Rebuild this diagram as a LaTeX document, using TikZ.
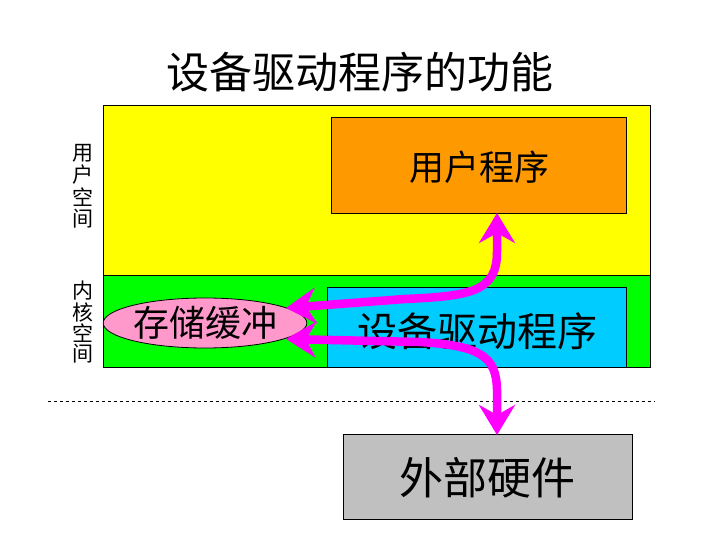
\documentclass[tikz,border=0pt]{standalone}
\usepackage{fontspec}
\setmainfont{Noto Sans CJK SC}
\usetikzlibrary{shapes.geometric,arrows.meta}
\definecolor{cyel}{RGB}{255,255,0}
\definecolor{cgrn}{RGB}{0,255,0}
\definecolor{corg}{RGB}{255,153,0}
\definecolor{ccyn}{RGB}{0,204,255}
\definecolor{cpnk}{RGB}{255,153,204}
\definecolor{cgry}{RGB}{192,192,192}
\definecolor{cmag}{RGB}{255,0,255}
\tikzset{
  box/.style={draw=black, line width=0.8pt, inner sep=0pt},
  arr/.style={draw=cmag, line width=8.5pt, {Stealth[length=30pt,width=36pt,inset=10pt]}-{Stealth[length=30pt,width=36pt,inset=10pt]}},
  lbl/.style={font=\fontsize{21}{21}\selectfont, inner sep=0pt}
}
\begin{document}
\begin{tikzpicture}[x=1pt,y=-1pt]
\useasboundingbox[fill=white] (0,0) rectangle (720,540);
\node[font=\fontsize{43}{43}\selectfont, inner sep=0pt] (title) at (360,72) {设备驱动程序的功能};
\node[box, fill=cyel, minimum width=547pt, minimum height=170pt, anchor=north west] (user) at (103,105) {};
\node[box, fill=cgrn, minimum width=547pt, minimum height=92pt, anchor=north west] (kern) at (103,275) {};
\node[box, fill=corg, minimum width=295pt, minimum height=96pt, anchor=north west] (uprog) at (331,117) {};
\node[font=\fontsize{35}{35}\selectfont, inner sep=0pt] (uprogt) at (479,167) {用户程序};
\node[box, fill=ccyn, minimum width=299pt, minimum height=80pt, anchor=north west] (drv) at (327,287) {};
\node[font=\fontsize{40}{40}\selectfont, inner sep=0pt] (drvt) at (477,331) {设备驱动程序};
\node[ellipse, draw=black, line width=0.8pt, fill=cpnk, minimum width=190pt, minimum height=50pt, inner sep=0pt, font=\fontsize{36}{36}\selectfont] (buf) at (205,323) {存储缓冲};
\node[lbl] (u1) at (83,153) {用};
\node[lbl] (u2) at (83,175) {户};
\node[lbl] (u3) at (83,197) {空};
\node[lbl] (u4) at (83,219) {间};
\node[lbl] (k1) at (83,291) {内};
\node[lbl] (k2) at (83,312) {核};
\node[lbl] (k3) at (83,333) {空};
\node[lbl] (k4) at (83,354) {间};
\coordinate (dl) at (48,401);
\coordinate (dr) at (655,401);
\draw[dashed, line width=0.6pt] (dl) -- (dr);
\node[box, fill=cgry, minimum width=289pt, minimum height=85pt, anchor=north west] (hw) at (343,434) {};
\node[font=\fontsize{44}{44}\selectfont, inner sep=0pt] (hwt) at (487,478) {外部硬件};
\coordinate (a1) at (497,213);
\coordinate (a1b) at (497,252);
\coordinate (a1c) at (405,299);
\coordinate (a1d) at (286,308);
\draw[arr] (a1) -- (a1b) .. controls (497,292) and (470,296) .. (a1c) -- (a1d);
\coordinate (a2) at (286,339);
\coordinate (a2b) at (420,342);
\coordinate (a2c) at (497,398);
\coordinate (a2d) at (497,435);
\draw[arr] (a2) -- (a2b) .. controls (488,346) and (498,360) .. (a2c) -- (a2d);
\end{tikzpicture}
\end{document}
